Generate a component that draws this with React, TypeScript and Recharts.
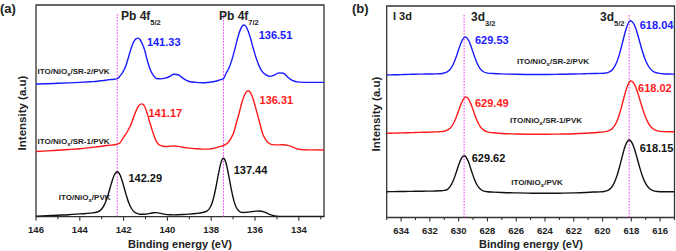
import React from 'react';
import { LineChart, Line, XAxis, YAxis, ReferenceLine, ReferenceArea, ReferenceDot } from 'recharts';

const FONT = '"Liberation Sans", Arial, Helvetica, sans-serif';
const BLUE = '#1a1aff';
const RED = '#ff1a1a';
const BLACK = '#111111';
const MAGENTA = '#ee33ee';
const FRAME = '#333333';

// ---------- Pb 4f region (binding energy, eV) ----------
const energyA = [
  146.0, 145.5, 145.0, 144.5, 144.0, 143.5, 143.2, 143.0, 142.85, 142.7,
  142.55, 142.42, 142.29, 142.16, 142.03, 141.9, 141.77, 141.64, 141.52, 141.42,
  141.33, 141.25, 141.17, 141.05, 140.92, 140.8, 140.65, 140.5, 140.3, 140.1,
  139.9, 139.7, 139.5, 139.3, 139.0, 138.7, 138.4, 138.2, 138.05, 137.92,
  137.8, 137.68, 137.56, 137.44, 137.32, 137.2, 137.08, 136.96, 136.84, 136.72,
  136.61, 136.51, 136.41, 136.31, 136.2, 136.08, 135.95, 135.8, 135.65, 135.5,
  135.3, 135.1, 134.9, 134.7, 134.5, 134.3, 134.0, 133.5, 132.85,
];
const pvkA = [
  0.5, 1.0, 1.5, 2.0, 2.8, 3.6, 4.7, 7.7, 13.3, 22.5,
  33.8, 41.9, 45.0, 41.7, 33.2, 23.1, 14.2, 8.2, 5.0, 3.6,
  2.9, 2.5, 2.4, 2.5, 2.8, 3.3, 3.9, 4.1, 3.3, 2.3,
  1.9, 1.8, 2.0, 2.2, 2.6, 3.2, 4.2, 5.6, 9.2, 16.5,
  27.7, 41.5, 53.6, 58.4, 53.4, 41.1, 27.0, 15.6, 8.7, 5.4,
  4.3, 4.2, 4.4, 4.6, 4.9, 5.2, 5.6, 5.7, 5.2, 4.0,
  2.0, 0.8, 0.3, 0.2, 0.2, 0.2, 0.2, 0.2, 0.2,
];
const sr1A = [
  65.2, 65.8, 66.5, 67.2, 68.0, 69.2, 70.0, 70.5, 71.0, 71.3,
  71.6, 71.9, 72.6, 74.0, 78.5, 82.5, 87.5, 93.5, 101.0, 106.3,
  110.4, 112.2, 112.8, 110.7, 103.1, 94.0, 83.5, 75.0, 71.0, 70.2,
  70.4, 70.7, 70.3, 69.5, 68.6, 68.0, 67.6, 67.6, 67.8, 68.2,
  68.8, 69.6, 70.4, 71.2, 72.6, 75.0, 79.0, 85.0, 94.5, 104.0,
  113.5, 120.0, 124.3, 126.0, 123.9, 117.4, 107.2, 95.0, 83.0, 76.5,
  72.5, 71.8, 71.8, 72.0, 71.3, 69.8, 67.4, 66.8, 66.7,
];
const sr2A = [
  132.7, 133.0, 133.4, 133.8, 134.3, 135.0, 135.5, 136.0, 136.4, 136.9,
  137.2, 137.5, 138.0, 140.8, 144.8, 150.7, 160.0, 169.5, 175.5, 178.0,
  178.6, 177.2, 174.0, 167.5, 156.5, 148.0, 141.5, 138.2, 137.8, 138.6,
  140.2, 142.5, 142.0, 138.6, 135.2, 134.3, 134.0, 134.2, 134.6, 135.0,
  135.5, 136.2, 137.0, 138.0, 143.5, 148.2, 155.1, 164.3, 174.6, 184.0,
  189.8, 191.7, 190.1, 185.5, 177.9, 168.4, 158.8, 150.1, 144.6, 141.8,
  140.3, 141.8, 143.8, 143.5, 139.5, 136.3, 134.6, 134.3, 134.3,
];
const ticksA = [146, 145, 144, 143, 142, 141, 140, 139, 138, 137, 136, 135, 134, 133];
const markersA = [142.29, 137.44];
const pvkPeaksA = [142.29, 137.44];
const sr1PeaksA = [141.17, 136.31];
const sr2PeaksA = [141.33, 136.51];

// ---------- I 3d region (binding energy, eV) ----------
const energyB = [
  635.0, 634.5, 634.0, 633.5, 633.0, 632.5, 632.0, 631.6, 631.3, 631.0,
  630.8, 630.6, 630.4, 630.2, 630.0, 629.8, 629.62, 629.53, 629.49, 629.3,
  629.1, 628.9, 628.7, 628.5, 628.3, 628.0, 627.6, 627.0, 626.0, 625.0,
  624.0, 623.0, 622.0, 621.2, 620.6, 620.2, 619.9, 619.6, 619.3, 619.0,
  618.8, 618.6, 618.4, 618.15, 618.04, 618.02, 617.8, 617.6, 617.4, 617.2,
  617.0, 616.8, 616.5, 616.2, 615.8, 615.4, 615.0,
];
const pvkB = [
  25.8, 25.9, 26.0, 26.1, 26.2, 26.3, 26.4, 26.5, 26.7, 27.1,
  27.9, 30.8, 36.0, 43.7, 52.5, 59.4, 61.8, 61.2, 60.5, 54.9,
  46.3, 38.0, 32.0, 28.4, 26.6, 25.7, 25.4, 25.0, 24.6, 24.3,
  24.2, 24.3, 24.6, 25.0, 25.5, 25.6, 26.0, 27.4, 31.7, 41.6,
  51.7, 62.9, 72.4, 77.5, 76.6, 76.3, 69.3, 59.5, 49.1, 40.2,
  33.8, 29.7, 26.9, 26.0, 25.8, 25.8, 25.8,
];
const sr1B = [
  84.2, 84.4, 84.6, 84.8, 85.0, 85.2, 85.4, 85.6, 85.8, 86.3,
  87.3, 89.2, 93.0, 99.1, 106.9, 114.7, 119.4, 120.4, 120.5, 118.2,
  111.7, 103.6, 96.2, 90.9, 87.9, 85.6, 84.7, 84.0, 83.5, 83.2,
  83.2, 83.4, 83.7, 84.2, 84.8, 85.3, 85.6, 86.6, 89.3, 96.3,
  104.5, 115.1, 125.9, 135.2, 136.5, 136.6, 133.7, 126.7, 117.4, 108.0,
  99.9, 93.9, 88.7, 86.7, 85.9, 85.8, 85.8,
];
const sr2B = [
  142.5, 142.7, 142.9, 143.1, 143.3, 143.4, 143.5, 143.6, 143.8, 144.5,
  145.6, 148.0, 152.5, 159.4, 167.9, 175.7, 180.0, 180.5, 180.4, 177.0,
  169.6, 161.0, 153.7, 148.7, 146.0, 144.4, 144.0, 143.6, 143.2, 143.0,
  143.0, 143.2, 143.5, 143.8, 144.0, 144.1, 144.3, 145.1, 148.0, 155.7,
  164.6, 175.7, 186.8, 195.9, 196.8, 196.7, 193.0, 185.0, 174.8, 164.8,
  156.7, 151.0, 146.3, 144.6, 143.8, 143.5, 143.3,
];
const ticksB = [635, 634, 633, 632, 631, 630, 629, 628, 627, 626, 625, 624, 623, 622, 621, 620, 619, 618, 617, 616, 615];
const markersB = [629.62, 618.15];
const pvkPeaksB = [629.62, 618.15];
const sr1PeaksB = [629.49, 618.02];
const sr2PeaksB = [629.53, 618.04];

type Row = { e: number; pvk: number; sr1: number; sr2: number };

const buildRows = (energy: number[], pvk: number[], sr1: number[], sr2: number[]): Row[] =>
  energy.map((e, i) => ({ e, pvk: pvk[i], sr1: sr1[i], sr2: sr2[i] }));

const rowsA = buildRows(energyA, pvkA, sr1A, sr2A);
const rowsB = buildRows(energyB, pvkB, sr1B, sr2B);

// label placement next to each peak (pixel offsets from the peak top)
const labelOffsetsA: Record<string, [number, number][]> = {
  sr2: [[8.6, 7.5], [14.8, 14]],
  sr1: [[6.7, 13.3], [11.3, 13.2]],
  pvk: [[11.2, 10], [10.2, 15.6]],
};
const labelOffsetsB: Record<string, [number, number][]> = {
  sr2: [[9.6, 7.4], [9, 8.2]],
  sr1: [[9, 9.6], [7, 11.3]],
  pvk: [[7.6, 6.5], [10.5, 11.6]],
};

const SERIES = [
  { key: 'sr2', color: BLUE },
  { key: 'sr1', color: RED },
  { key: 'pvk', color: BLACK },
];

function AxisTick(props: any) {
  const { x, y, payload } = props;
  const v = Math.round(payload.value);
  const major = v % 2 === 0;
  return (
    <g>
      <line x1={x} x2={x} y1={y} y2={y + (major ? 4 : 2.6)} stroke={FRAME} strokeWidth={1.1} />
      {major && (
        <text x={x} y={y + 16} textAnchor="middle" fontFamily={FONT} fontWeight={700} fontSize={9.5} fill="#222">
          {v}
        </text>
      )}
    </g>
  );
}

type PanelProps = {
  rows: Row[];
  xDomain: [number, number];
  yDomain: [number, number];
  ticks: number[];
  markers: number[];
  markerTop: number;
  peaks: Record<string, number[]>;
  offsets: Record<string, [number, number][]>;
  width: number;
  height: number;
  margin: { top: number; right: number; bottom: number; left: number };
};

function Panel(p: PanelProps) {
  const dots: React.ReactNode[] = [];
  SERIES.forEach((s) => {
    p.peaks[s.key].forEach((e, i) => {
      const row = p.rows.find((r) => r.e === e) as Row;
      const h = (row as any)[s.key] as number;
      const [dx, dy] = p.offsets[s.key][i];
      dots.push(
        <ReferenceDot
          key={`${s.key}-${i}`}
          x={e}
          y={h}
          r={0}
          shape={(sp: any) => (
            <text
              x={sp.cx + dx}
              y={sp.cy + dy}
              fontFamily={FONT}
              fontWeight={700}
              fontSize={11}
              fill={s.color}
            >
              {e.toFixed(2)}
            </text>
          )}
        />
      );
    });
  });

  return (
    <LineChart width={p.width} height={p.height} data={p.rows} margin={p.margin}>
      <XAxis
        dataKey="e"
        type="number"
        domain={p.xDomain}
        reversed
        allowDataOverflow
        ticks={p.ticks}
        interval={0}
        tickSize={0}
        tickMargin={0}
        tickLine={false}
        axisLine={false}
        height={25}
        tick={<AxisTick />}
      />
      <YAxis type="number" domain={p.yDomain} hide allowDataOverflow />
      {p.markers.map((m) => (
        <ReferenceLine
          key={m}
          segment={[
            { x: m, y: p.yDomain[0] },
            { x: m, y: p.markerTop },
          ]}
          stroke={MAGENTA}
          strokeWidth={1}
          strokeDasharray="1.5 1.5"
        />
      ))}
      {SERIES.map((s) => (
        <Line
          key={s.key}
          type="monotone"
          dataKey={s.key}
          stroke={s.color}
          strokeWidth={1.4}
          dot={false}
          activeDot={false}
          isAnimationActive={false}
        />
      ))}
      <ReferenceArea
        x1={p.xDomain[0]}
        x2={p.xDomain[1]}
        y1={p.yDomain[0]}
        y2={p.yDomain[1]}
        fill="none"
        fillOpacity={0}
        stroke={FRAME}
        strokeWidth={1.3}
      />
      {dots}
    </LineChart>
  );
}

const bold = { fontFamily: FONT, fontWeight: 700 } as const;

function SampleName({ x, y, anchor, tail }: { x: number; y: number; anchor: 'start' | 'middle' | 'end'; tail: string }) {
  return (
    <text x={x} y={y} textAnchor={anchor} fontSize={8} fill="#222" {...bold}>
      ITO/NiO
      <tspan fontSize={6} dy={2}>x</tspan>
      <tspan fontSize={8} dy={-2}>{tail}</tspan>
    </text>
  );
}

function Level({ x, y, main, sub, size }: { x: number; y: number; main: string; sub: string; size: number }) {
  return (
    <text x={x} y={y} fontSize={size} fill="#222" {...bold}>
      {main}
      <tspan fontSize={7.5} dy={4.5}>{sub}</tspan>
    </text>
  );
}

export default function App() {
  return (
    <div style={{ position: 'absolute', left: 0, top: 0, width: 676, height: 251, background: '#fff', overflow: 'hidden' }}>
      <div style={{ position: 'absolute', left: 0, top: 0 }}>
        <Panel
          rows={rowsA}
          xDomain={[132.85, 146]}
          yDomain={[0, 211.7]}
          ticks={ticksA}
          markers={markersA}
          markerTop={204}
          peaks={{ pvk: pvkPeaksA, sr1: sr1PeaksA, sr2: sr2PeaksA }}
          offsets={labelOffsetsA}
          width={340}
          height={251}
          margin={{ top: 5, right: 16, bottom: 9.3, left: 36 }}
        />
      </div>
      <div style={{ position: 'absolute', left: 340, top: 0 }}>
        <Panel
          rows={rowsB}
          xDomain={[615, 635]}
          yDomain={[0, 211.5]}
          ticks={ticksB}
          markers={markersB}
          markerTop={203.5}
          peaks={{ pvk: pvkPeaksB, sr1: sr1PeaksB, sr2: sr2PeaksB }}
          offsets={labelOffsetsB}
          width={336}
          height={251}
          margin={{ top: 6, right: 1.5, bottom: 8.5, left: 46.7 }}
        />
      </div>
      <svg width={676} height={251} style={{ position: 'absolute', left: 0, top: 0, pointerEvents: 'none' }}>
        {/* panel (a) annotations */}
        <text x={0} y={13} fontSize={13} fill="#222" {...bold}>(a)</text>
        <Level x={121} y={20} main="Pb 4f" sub="5/2" size={12} />
        <Level x={219} y={20} main="Pb 4f" sub="7/2" size={12} />
        <SampleName x={37.5} y={73.5} anchor="start" tail="/SR-2/PVK" />
        <SampleName x={37.5} y={144} anchor="start" tail="/SR-1/PVK" />
        <SampleName x={110.5} y={199.5} anchor="end" tail="/PVK" />
        <text x={180} y={248} textAnchor="middle" fontSize={11} fill="#222" {...bold}>Binding energy (eV)</text>
        <text x={22} y={113} textAnchor="middle" dominantBaseline="central" transform="rotate(-90 22 113)" fontSize={11.5} fill="#222" {...bold}>
          Intensity (a.u)
        </text>

        {/* panel (b) annotations */}
        <text x={352} y={13} fontSize={13} fill="#222" {...bold}>(b)</text>
        <text x={393} y={20} fontSize={11} fill="#222" {...bold}>I 3d</text>
        <Level x={471} y={21} main="3d" sub="3/2" size={12} />
        <Level x={600} y={21} main="3d" sub="5/2" size={12} />
        <SampleName x={553} y={64} anchor="middle" tail="/SR-2/PVK" />
        <SampleName x={546} y={123} anchor="middle" tail="/SR-1/PVK" />
        <SampleName x={537} y={184.5} anchor="middle" tail="/PVK" />
        <text x={531} y={248} textAnchor="middle" fontSize={11} fill="#222" {...bold}>Binding energy (eV)</text>
        <text x={376} y={114} textAnchor="middle" dominantBaseline="central" transform="rotate(-90 376 114)" fontSize={11.5} fill="#222" {...bold}>
          Intensity (a.u)
        </text>
      </svg>
    </div>
  );
}
